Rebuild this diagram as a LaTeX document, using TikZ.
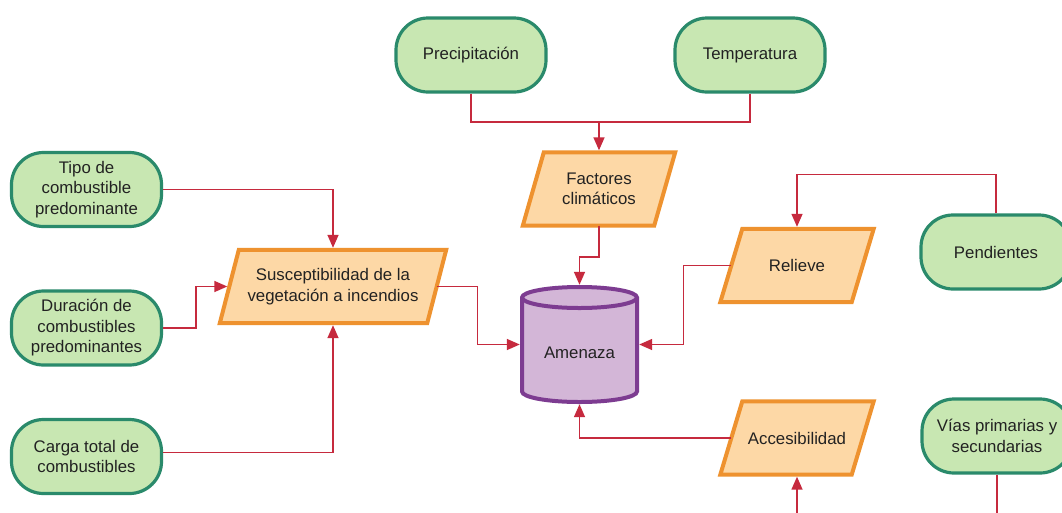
\documentclass[tikz,border=0pt]{standalone}
\usepackage{fontspec}
\setmainfont{Liberation Sans}
\usetikzlibrary{arrows.meta,calc}
\pgfdeclarelayer{bg}
\pgfsetlayers{bg,main}
\definecolor{gfill}{HTML}{C8E7B2}
\definecolor{gline}{HTML}{2A8A6B}
\definecolor{ofill}{HTML}{FDD8A6}
\definecolor{oline}{HTML}{EE922F}
\definecolor{pfill}{HTML}{D3B6D7}
\definecolor{pline}{HTML}{7D3C91}
\definecolor{rline}{HTML}{C62A3E}
\definecolor{txt}{HTML}{222222}
\begin{document}
\begin{tikzpicture}[x=1pt,y=-1pt,
  every node/.style={font=\fontsize{16.8}{20.5}\selectfont, text=txt, align=center},
  term/.style={rectangle, rounded corners=32pt, draw=gline, fill=gfill, line width=3.2pt,
    minimum width=150pt, minimum height=74pt, inner sep=0pt},
  parabox/.style={rectangle, minimum width=#1, minimum height=73pt, inner sep=0pt},
  paraline/.style={draw=oline, fill=ofill, line width=4pt, line join=miter},
  conn/.style={draw=rline, line width=1.5pt},
  arr/.style={conn, -{Triangle[length=13pt,width=11pt]}},
]
\useasboundingbox (0,0) rectangle (1062,512);
\begin{pgfonlayer}{bg}
\fill[white] (0,0) rectangle (1062,512);
\end{pgfonlayer}
\clip (0,0) rectangle (1062,512);

% terminals
\node[term] (precip) at (471,55) {Precipitación};
\node[term] (temp) at (750,55) {Temperatura};
\node[term] (tipo) at (86.5,189.5) {Tipo de\\combustible\\predominante};
\node[term] (dur) at (86.5,328) {Duración de\\combustibles\\predominantes};
\node[term] (carga) at (86.5,456.5) {Carga total de\\combustibles};
\node[term] (pend) at (996,252) {Pendientes};
\node[term] (vias) at (997,436) {Vías primarias y\\secundarias};

% parallelograms (text boxes; outlines drawn behind)
\node[parabox=131pt] (fact) at (599,189) {Factores\\climáticos};
\node[parabox=131pt] (rel) at (797,265.5) {Relieve};
\node[parabox=131pt] (acc) at (797,438) {Accesibilidad};
\node[parabox=207pt] (susc) at (333,286.5) {Susceptibilidad de la\\vegetación a incendios};
\begin{pgfonlayer}{bg}
\foreach \n/\h in {fact/10.5, rel/11, acc/11, susc/9.5}{
  \path[paraline] ($(\n.south west)+(-\h,0)$) -- ($(\n.north west)+(\h,0)$)
    -- ($(\n.north east)+(\h,0)$) -- ($(\n.south east)+(-\h,0)$) -- cycle;
}
\end{pgfonlayer}

% cylinder
\path[draw=pline, fill=pfill, line width=4pt] (522,297.5) -- (522,391.5)
  arc[start angle=180,end angle=360,x radius=57.5pt,y radius=10.5pt] -- (637,297.5)
  arc[start angle=0,end angle=180,x radius=57.5pt,y radius=10.5pt] -- cycle;
\draw[pline, line width=4pt] (522,297.5)
  arc[start angle=180,end angle=360,x radius=57.5pt,y radius=10.5pt];
\node[minimum width=115pt, minimum height=115pt, inner sep=0pt] (amen) at (579.5,344.5) {};
\node (amenlbl) at ($(amen.center)+(0,8)$) {Amenaza};

% connectors
\coordinate (j1) at (599,122);
\draw[conn] (precip.south) |- (j1);
\draw[conn] (temp.south) |- (j1);
\draw[arr] (j1) -- ($(fact.north)+(0,-2)$);
\draw[arr] (fact.south) |- ($(amen.north)+(0,-30)$) -- ($(amen.north)+(0,-2)$);
\draw[arr] (susc.east) -- ++(41,0) |- ($(amen.west)+(-2,0)$);
\draw[arr] (rel.west) -- ++(-48,0) |- ($(amen.east)+(2,0)$);
\draw[arr] (acc.west) -| ($(amen.south)+(0,2)$);
\draw[arr] (pend.north) -- ++(0,-39) -| ($(rel.north)+(0,-2)$);
\draw[arr] (vias.south) -- ++(0,60) -| ($(acc.south)+(0,2)$);
\draw[arr] (tipo.east) -| ($(susc.north)+(0,-2)$);
\draw[arr] (dur.east) -- ++(33,0) |- ($(susc.west)+(-2,0)$);
\draw[arr] ($(carga.east)+(0,-4)$) -| ($(susc.south)+(0,2)$);
\end{tikzpicture}
\end{document}
